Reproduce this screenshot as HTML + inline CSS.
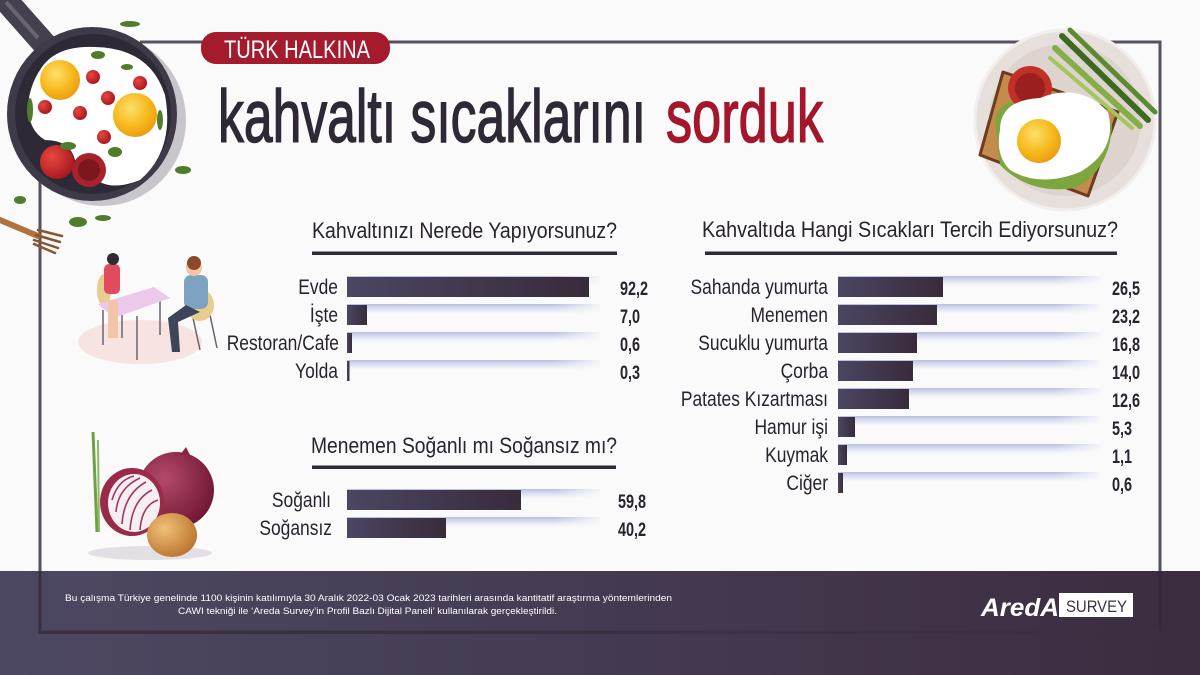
<!DOCTYPE html>
<html>
<head>
<meta charset="utf-8">
<style>
  html,body{margin:0;padding:0;background:#fafafa;}
  svg{display:block;}
  text{font-family:"Liberation Sans",sans-serif;}
</style>
</head>
<body>
<svg width="1200" height="675" viewBox="0 0 1200 675" xmlns="http://www.w3.org/2000/svg">
  <defs>
    <linearGradient id="bar" x1="0" y1="0" x2="1" y2="0">
      <stop offset="0" stop-color="#4b4662"/>
      <stop offset="1" stop-color="#382b3b"/>
    </linearGradient>
    <linearGradient id="trk" x1="0" y1="0" x2="0" y2="1">
      <stop offset="0" stop-color="#b4bae0" stop-opacity="0.95"/>
      <stop offset="0.5" stop-color="#d4d8ef" stop-opacity="0.6"/>
      <stop offset="1" stop-color="#ffffff" stop-opacity="0"/>
    </linearGradient>
    <linearGradient id="fade" x1="0" y1="0" x2="1" y2="0">
      <stop offset="0" stop-color="#fafafa" stop-opacity="0"/>
      <stop offset="1" stop-color="#fafafa" stop-opacity="1"/>
    </linearGradient>
    <linearGradient id="band" x1="0" y1="0" x2="1" y2="0">
      <stop offset="0" stop-color="#4d4862"/>
      <stop offset="1" stop-color="#3c2d40"/>
    </linearGradient>
    <radialGradient id="yolk" cx="0.4" cy="0.35" r="0.7">
      <stop offset="0" stop-color="#fde06a"/>
      <stop offset="0.6" stop-color="#f6b81c"/>
      <stop offset="1" stop-color="#e89a10"/>
    </radialGradient>
    <radialGradient id="tom" cx="0.35" cy="0.35" r="0.7">
      <stop offset="0" stop-color="#e8483f"/>
      <stop offset="1" stop-color="#a8161f"/>
    </radialGradient>
    <radialGradient id="ronion" cx="0.35" cy="0.35" r="0.75">
      <stop offset="0" stop-color="#b44a6a"/>
      <stop offset="1" stop-color="#6c1330"/>
    </radialGradient>
    <radialGradient id="yonion" cx="0.35" cy="0.35" r="0.75">
      <stop offset="0" stop-color="#f0c078"/>
      <stop offset="1" stop-color="#b8702a"/>
    </radialGradient>
  </defs>

  <!-- background -->
  <rect x="0" y="0" width="1200" height="675" fill="#fafafa"/>

  <!-- frame -->
  <rect x="140" y="40.5" width="1021.5" height="3" fill="#57525e"/>
  <rect x="38.5" y="180" width="3" height="392" fill="#57525e"/>
  <rect x="1158.5" y="40.5" width="3" height="532" fill="#57525e"/>

  <!-- bottom band -->
  <rect x="0" y="571" width="1200" height="104" fill="url(#band)"/>
  <rect x="38.5" y="571" width="3" height="63" fill="#3a3042"/>
  <rect x="1158.5" y="571" width="3" height="63" fill="#37293b"/>
  <rect x="38.5" y="630.5" width="1123" height="3.5" fill="#3a3042"/>

  <!-- footer text -->
  <text x="65" y="601" font-size="9" fill="#ffffff" textLength="607" lengthAdjust="spacingAndGlyphs">Bu çalışma Türkiye genelinde 1100 kişinin katılımıyla 30 Aralık 2022-03 Ocak 2023 tarihleri arasında kantitatif araştırma yöntemlerinden</text>
  <text x="178" y="614" font-size="9" fill="#ffffff" textLength="379" lengthAdjust="spacingAndGlyphs">CAWI tekniği ile ‘Areda Survey’in Profil Bazlı Dijital Paneli’ kullanılarak gerçekleştirildi.</text>

  <!-- logo -->
  <text x="981" y="616" font-size="25" font-weight="bold" font-style="italic" fill="#ffffff" textLength="78" lengthAdjust="spacingAndGlyphs">AredA</text>
  <rect x="1059" y="593" width="74" height="24" fill="#ffffff"/>
  <text x="1066" y="612" font-size="17" fill="#3d3043" textLength="61" lengthAdjust="spacingAndGlyphs">SURVEY</text>

  <!-- pill -->
  <rect x="201" y="32" width="189" height="32" rx="15" fill="#a51b2e"/>
  <text x="224" y="58" font-size="25" fill="#ffffff" textLength="146" lengthAdjust="spacingAndGlyphs">TÜRK HALKINA</text>

  <!-- main title -->
  <text x="218" y="142" font-size="74" fill="#2e2935" stroke="#2e2935" stroke-width="1.4" textLength="428" lengthAdjust="spacingAndGlyphs">kahvaltı sıcaklarını</text>
  <text x="666" y="142" font-size="74" fill="#a3162b" stroke="#a3162b" stroke-width="1.4" textLength="157" lengthAdjust="spacingAndGlyphs">sorduk</text>

  <!-- ===== Left chart 1 ===== -->
  <text x="312" y="238" font-size="22" fill="#28232e" textLength="305" lengthAdjust="spacingAndGlyphs">Kahvaltınızı Nerede Yapıyorsunuz?</text>
  <rect x="312" y="251.5" width="305" height="3.5" fill="#2f2a35"/>

  <g>
    <rect x="347" y="276" width="253" height="12" fill="url(#trk)"/>
    <rect x="347" y="304" width="253" height="12" fill="url(#trk)"/>
    <rect x="347" y="332" width="253" height="12" fill="url(#trk)"/>
    <rect x="347" y="360" width="253" height="12" fill="url(#trk)"/>
    <rect x="555" y="272" width="50" height="105" fill="url(#fade)"/>

    <rect x="347" y="277" width="242" height="20" fill="url(#bar)"/>
    <rect x="347" y="305" width="20" height="20" fill="url(#bar)"/>
    <rect x="347" y="333" width="5" height="20" fill="url(#bar)"/>
    <rect x="347" y="361" width="2.5" height="20" fill="url(#bar)"/>

    <g font-size="21" fill="#28232e" text-anchor="end">
      <text transform="translate(338,294) scale(0.83,1)">Evde</text>
      <text transform="translate(338,322) scale(0.83,1)">İşte</text>
      <text transform="translate(339,350) scale(0.83,1)">Restoran/Cafe</text>
      <text transform="translate(338,378) scale(0.83,1)">Yolda</text>
    </g>
    <g font-size="19" font-weight="bold" fill="#28232e">
      <text transform="translate(620,295) scale(0.76,1)">92,2</text>
      <text transform="translate(620,323) scale(0.76,1)">7,0</text>
      <text transform="translate(620,351) scale(0.76,1)">0,6</text>
      <text transform="translate(620,379) scale(0.76,1)">0,3</text>
    </g>
  </g>

  <!-- ===== Left chart 2 ===== -->
  <text x="311" y="453" font-size="22" fill="#28232e" textLength="306" lengthAdjust="spacingAndGlyphs">Menemen Soğanlı mı Soğansız mı?</text>
  <rect x="312" y="465.5" width="304" height="3.5" fill="#2f2a35"/>

  <g>
    <rect x="347" y="489" width="253" height="12" fill="url(#trk)"/>
    <rect x="347" y="517" width="253" height="12" fill="url(#trk)"/>
    <rect x="555" y="485" width="50" height="60" fill="url(#fade)"/>

    <rect x="347" y="490" width="174" height="20" fill="url(#bar)"/>
    <rect x="347" y="518" width="99" height="20" fill="url(#bar)"/>

    <g font-size="21" fill="#28232e" text-anchor="end">
      <text transform="translate(331,507) scale(0.83,1)">Soğanlı</text>
      <text transform="translate(332,535) scale(0.83,1)">Soğansız</text>
    </g>
    <g font-size="19" font-weight="bold" fill="#28232e">
      <text transform="translate(618,508) scale(0.76,1)">59,8</text>
      <text transform="translate(618,536) scale(0.76,1)">40,2</text>
    </g>
  </g>

  <!-- ===== Right chart ===== -->
  <text x="702" y="237" font-size="22" fill="#28232e" textLength="416" lengthAdjust="spacingAndGlyphs">Kahvaltıda Hangi Sıcakları Tercih Ediyorsunuz?</text>
  <rect x="705" y="251.5" width="412" height="3.5" fill="#2f2a35"/>

  <g>
    <rect x="838" y="276" width="262" height="12" fill="url(#trk)"/>
    <rect x="838" y="304" width="262" height="12" fill="url(#trk)"/>
    <rect x="838" y="332" width="262" height="12" fill="url(#trk)"/>
    <rect x="838" y="360" width="262" height="12" fill="url(#trk)"/>
    <rect x="838" y="388" width="262" height="12" fill="url(#trk)"/>
    <rect x="838" y="416" width="262" height="12" fill="url(#trk)"/>
    <rect x="838" y="444" width="262" height="12" fill="url(#trk)"/>
    <rect x="838" y="472" width="262" height="12" fill="url(#trk)"/>
    <rect x="1055" y="272" width="50" height="220" fill="url(#fade)"/>

    <rect x="838" y="277" width="105" height="20" fill="url(#bar)"/>
    <rect x="838" y="305" width="99" height="20" fill="url(#bar)"/>
    <rect x="838" y="333" width="79" height="20" fill="url(#bar)"/>
    <rect x="838" y="361" width="75" height="20" fill="url(#bar)"/>
    <rect x="838" y="389" width="71" height="20" fill="url(#bar)"/>
    <rect x="838" y="417" width="17" height="20" fill="url(#bar)"/>
    <rect x="838" y="445" width="9" height="20" fill="url(#bar)"/>
    <rect x="838" y="473" width="5" height="20" fill="url(#bar)"/>

    <g font-size="21" fill="#28232e" text-anchor="end">
      <text transform="translate(828,294) scale(0.83,1)">Sahanda yumurta</text>
      <text transform="translate(828,322) scale(0.83,1)">Menemen</text>
      <text transform="translate(828,350) scale(0.83,1)">Sucuklu yumurta</text>
      <text transform="translate(828,378) scale(0.83,1)">Çorba</text>
      <text transform="translate(828,406) scale(0.83,1)">Patates Kızartması</text>
      <text transform="translate(828,434) scale(0.83,1)">Hamur işi</text>
      <text transform="translate(828,462) scale(0.83,1)">Kuymak</text>
      <text transform="translate(828,490) scale(0.83,1)">Ciğer</text>
    </g>
    <g font-size="19" font-weight="bold" fill="#28232e">
      <text transform="translate(1112,295) scale(0.76,1)">26,5</text>
      <text transform="translate(1112,323) scale(0.76,1)">23,2</text>
      <text transform="translate(1112,351) scale(0.76,1)">16,8</text>
      <text transform="translate(1112,379) scale(0.76,1)">14,0</text>
      <text transform="translate(1112,407) scale(0.76,1)">12,6</text>
      <text transform="translate(1112,435) scale(0.76,1)">5,3</text>
      <text transform="translate(1112,463) scale(0.76,1)">1,1</text>
      <text transform="translate(1112,491) scale(0.76,1)">0,6</text>
    </g>
  </g>

  <!-- ===== Pan illustration (top-left) ===== -->
  <g>
    <ellipse cx="102" cy="120" rx="84" ry="86" fill="#c9c5cc"/>
    <line x1="2" y1="-4" x2="48" y2="48" stroke="#45404d" stroke-width="24" stroke-linecap="round"/>
    <line x1="6" y1="2" x2="38" y2="38" stroke="#6a6575" stroke-width="4"/>
    <ellipse cx="92" cy="114" rx="85" ry="87" fill="#3f3a48"/>
    <ellipse cx="93" cy="114" rx="78" ry="80" fill="#2e2a35"/>
    <path d="M40 70 Q55 45 95 47 Q150 48 165 95 Q175 150 140 180 Q115 190 100 182 Q80 178 75 160 Q70 140 45 140 Q28 130 28 105 Q30 85 40 70 Z" fill="#ffffff"/>
    <circle cx="60" cy="80" r="20" fill="url(#yolk)"/>
    <circle cx="135" cy="115" r="22" fill="url(#yolk)"/>
    <circle cx="93" cy="77" r="7" fill="url(#tom)"/>
    <circle cx="108" cy="98" r="7" fill="url(#tom)"/>
    <circle cx="80" cy="113" r="7" fill="url(#tom)"/>
    <circle cx="104" cy="137" r="7" fill="url(#tom)"/>
    <circle cx="45" cy="107" r="7" fill="url(#tom)"/>
    <circle cx="140" cy="83" r="7" fill="url(#tom)"/>
    <circle cx="57" cy="162" r="17" fill="url(#tom)"/>
    <circle cx="89" cy="170" r="17" fill="#a8222a"/>
    <circle cx="89" cy="170" r="11" fill="#7c171d"/>
    <g fill="#4f7d2c">
      <ellipse cx="98" cy="55" rx="7" ry="4"/>
      <ellipse cx="127" cy="67" rx="6" ry="3"/>
      <ellipse cx="115" cy="152" rx="7" ry="5"/>
      <ellipse cx="68" cy="146" rx="8" ry="4"/>
      <ellipse cx="160" cy="120" rx="3" ry="10"/>
      <ellipse cx="30" cy="110" rx="3" ry="12"/>
      <ellipse cx="130" cy="24" rx="10" ry="3"/>
      <ellipse cx="183" cy="170" rx="8" ry="4"/>
      <ellipse cx="20" cy="200" rx="6" ry="4"/>
      <ellipse cx="78" cy="222" rx="9" ry="5"/>
      <ellipse cx="103" cy="218" rx="8" ry="3"/>
    </g>
    <!-- fork -->
    <line x1="0" y1="220" x2="38" y2="236" stroke="#b0723e" stroke-width="6" stroke-linecap="round"/>
    <g stroke="#8a5530" stroke-width="2.5" stroke-linecap="round">
      <line x1="38" y1="230" x2="62" y2="236"/>
      <line x1="36" y1="235" x2="60" y2="242"/>
      <line x1="34" y1="240" x2="58" y2="248"/>
      <line x1="34" y1="244" x2="55" y2="253"/>
    </g>
  </g>

  <!-- ===== Plate (top-right) ===== -->
  <g>
    <circle cx="1065" cy="120" r="90" fill="#e6dfdc"/>
    <circle cx="1065" cy="120" r="76" fill="#ddd3cf"/>
    <circle cx="1065" cy="120" r="90" fill="none" stroke="#f2eeec" stroke-width="3"/>
    <polygon points="1003,72 1118,112 1088,196 980,155" fill="#c38b4c" stroke="#6e3b1e" stroke-width="3" stroke-linejoin="round"/>
    <path d="M995 120 Q1000 95 1040 100 Q1095 100 1112 125 Q1110 170 1075 188 Q1030 195 1000 165 Z" fill="#7ea63e"/>
    <circle cx="1030" cy="88" r="22" fill="#c22f27"/>
    <circle cx="1030" cy="88" r="15" fill="#9a1f1e"/>
    <path d="M1000 130 Q1000 100 1040 98 Q1080 82 1108 112 Q1118 150 1080 172 Q1040 188 1010 170 Q995 155 1000 130 Z" fill="#ffffff"/>
    <circle cx="1039" cy="141" r="22" fill="url(#yolk)"/>
    <g stroke-linecap="round">
      <line x1="1062" y1="36" x2="1148" y2="120" stroke="#3d6a20" stroke-width="6"/>
      <line x1="1055" y1="48" x2="1140" y2="126" stroke="#86ae48" stroke-width="6"/>
      <line x1="1070" y1="30" x2="1155" y2="112" stroke="#5c8a30" stroke-width="5"/>
      <line x1="1050" y1="58" x2="1132" y2="128" stroke="#a4c65a" stroke-width="4"/>
    </g>
  </g>

  <!-- ===== People illustration ===== -->
  <g>
    <ellipse cx="140" cy="342" rx="62" ry="22" fill="#f7e4e2"/>
    <g stroke="#6a6270" stroke-width="1.5">
      <line x1="103" y1="310" x2="103" y2="345"/>
      <line x1="137" y1="316" x2="137" y2="360"/>
      <line x1="160" y1="300" x2="160" y2="335"/>
      <line x1="122" y1="305" x2="122" y2="338"/>
      <line x1="193" y1="318" x2="200" y2="350"/>
      <line x1="210" y1="315" x2="217" y2="348"/>
    </g>
    <ellipse cx="104" cy="290" rx="7" ry="16" fill="#e9cd8f"/>
    <rect x="104" y="264" width="16" height="30" rx="5" fill="#e04b5d"/>
    <circle cx="113" cy="259" r="6" fill="#2f2a35"/>
    <polygon points="98,304 154,287 170,298 114,318" fill="#ecc8ea"/>
    <rect x="108" y="300" width="10" height="38" fill="#f2c5a8"/>
    <ellipse cx="200" cy="305" rx="14" ry="16" fill="#e9cd8f"/>
    <rect x="184" y="275" width="24" height="34" rx="7" fill="#7ea3c2"/>
    <circle cx="194" cy="268" r="8" fill="#f2c5a8"/>
    <circle cx="194" cy="263" r="7" fill="#8a4a2a"/>
    <path d="M186 305 L168 318 L172 352 L180 352 L178 322 L200 312 Z" fill="#3e4459"/>
  </g>

  <!-- ===== Onions ===== -->
  <g>
    <ellipse cx="150" cy="553" rx="62" ry="7" fill="#e2e0e4"/>
    <line x1="93" y1="432" x2="97" y2="532" stroke="#6ea04a" stroke-width="3"/>
    <line x1="98" y1="440" x2="99" y2="532" stroke="#8dbb5f" stroke-width="2"/>
    <circle cx="176" cy="490" r="38" fill="url(#ronion)"/>
    <path d="M180 455 L186 447 L190 455 Z" fill="#8e2340"/>
    <ellipse cx="132" cy="502" rx="32" ry="34" fill="#9a2a4a"/>
    <ellipse cx="134" cy="503" rx="26" ry="29" fill="#f7eef2"/>
    <g fill="none" stroke="#9c3a64" stroke-width="1.6">
      <path d="M112 500 Q118 480 134 476"/>
      <path d="M116 512 Q118 488 140 478"/>
      <path d="M122 524 Q124 494 146 482"/>
      <path d="M130 530 Q132 500 152 490"/>
      <path d="M140 530 Q142 505 158 500"/>
    </g>
    <ellipse cx="172" cy="535" rx="25" ry="22" fill="url(#yonion)"/>
  </g>
</svg>
</body>
</html>
